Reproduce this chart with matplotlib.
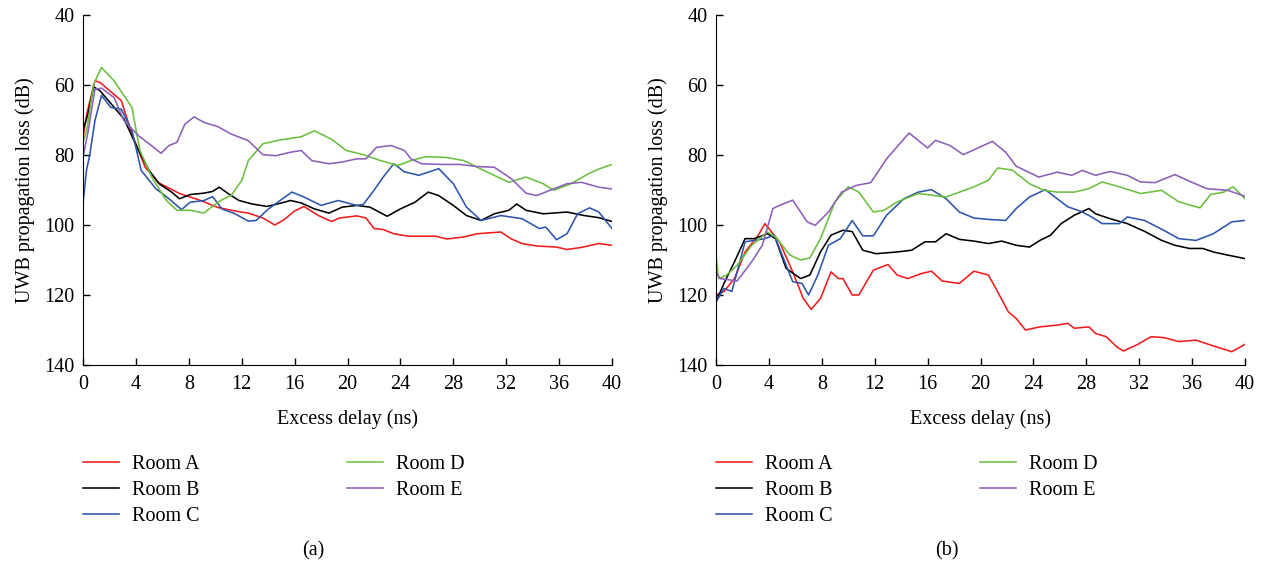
import matplotlib.pyplot as plt
import numpy as np

plt.rcParams['font.family'] = ['Liberation Serif', 'DejaVu Serif']

rooms = ['Room A', 'Room B', 'Room C', 'Room D', 'Room E']
colors = ['#f01c1c', '#000000', '#2b55ad', '#6cbf3e', '#8c5fb8']
xticks = [0, 4, 8, 12, 16, 20, 24, 28, 32, 36, 40]
yticks = [40, 60, 80, 100, 120, 140]

# panel (a): excess delay (ns), loss (dB)
a_room_a = [(0, 75), (0.3, 68), (0.9, 58.8), (1.3, 59.3), (2.9, 64.5), (3.7, 74), (4.7, 83.5),
            (5.75, 88), (7.3, 91), (8.9, 93), (10.2, 95), (11.5, 96), (12.5, 96.6),
            (13.6, 98), (14.5, 100), (15.2, 98.5), (16, 96), (16.7, 94.7), (17.8, 97.3),
            (18.8, 99), (19.4, 98), (20.7, 97.4), (21.4, 98), (22, 101), (22.7, 101.3),
            (23.5, 102.5), (24.6, 103.2), (26.7, 103.2), (27.5, 104), (28.8, 103.4),
            (29.8, 102.5), (31.6, 102), (32.4, 104), (33.2, 105.3), (34.3, 106),
            (35.8, 106.3), (36.6, 107), (37.7, 106.4), (39, 105.3), (40, 105.8)]
a_room_b = [(0, 73), (0.4, 68), (0.8, 60.5), (1.3, 61.7), (3.1, 69.7), (4.2, 78.7), (5, 84.4),
            (5.75, 88.2), (6.7, 90.6), (7.3, 92.5), (8.1, 91.3), (9.15, 90.9), (9.8, 90.4),
            (10.3, 89.2), (11, 91.1), (11.8, 93), (12.8, 94), (13.9, 94.7), (14.6, 94.1),
            (15.7, 93), (16.5, 93.7), (17.5, 95.4), (18.6, 96.6), (19.6, 94.9), (20.7, 94.4),
            (21.7, 94.9), (23, 97.5), (24, 95.4), (25.1, 93.5), (26.1, 90.6), (26.9, 91.6),
            (28, 94.4), (29, 97.3), (30.1, 98.7), (31.1, 96.8), (32.2, 95.8), (32.8, 94),
            (33.5, 95.8), (34.8, 96.8), (36.6, 96.3), (37.9, 97.3), (39, 97.9), (40, 99)]
a_room_c = [(0, 94), (0.26, 84.4), (0.5, 80.2), (0.9, 70.2), (1.4, 63), (2.1, 66.4), (2.9, 66.9),
            (3.7, 73), (4.4, 84.4), (5.5, 89.6), (6.5, 92.5), (7.45, 95.6), (8.1, 93.5),
            (9.15, 93), (9.8, 91.9), (10.5, 95.4), (11.5, 96.8), (12.5, 98.9), (13.1, 98.7),
            (13.9, 95.8), (14.9, 93), (15.8, 90.6), (16.7, 92), (18, 94.4), (19.3, 93),
            (20.7, 94.4), (21.2, 94.1), (22, 90.1), (22.7, 86.3), (23.5, 82.5), (24.3, 84.8),
            (25.4, 85.8), (26.9, 83.9), (28, 88.2), (29, 94.9), (30.1, 98.7), (31.6, 97.3),
            (33.2, 98.2), (34.5, 101), (35, 100.6), (35.8, 104.2), (36.6, 102.5),
            (37.4, 96.8), (38.3, 95.1), (39, 96.3), (40, 101)]
a_room_d = [(0, 76.4), (0.3, 72.6), (0.8, 59.8), (1.4, 55), (2.35, 58.8), (3.7, 66.4),
            (4.3, 78.7), (5.2, 86.3), (6.3, 93), (7.1, 95.8), (8.1, 95.8), (9.15, 96.6),
            (9.7, 94.9), (10.5, 92.8), (11.2, 91.6), (12, 87.3), (12.5, 81.6), (13.6, 76.8),
            (14.9, 75.7), (16.5, 74.8), (17.5, 73.1), (18.8, 75.5), (19.9, 78.7),
            (21.2, 79.9), (22.5, 81.6), (23.8, 83), (24.8, 81.6), (25.9, 80.5), (27.5, 80.7),
            (28.8, 81.6), (30.3, 84.4), (32.2, 87.8), (33.5, 86.3), (34.8, 88.2),
            (35.6, 90.1), (36.9, 88.2), (38.2, 85.4), (39, 84), (40, 82.7)]
a_room_e = [(0, 80.6), (0.4, 73), (0.9, 61.2), (1.4, 60.9), (2.35, 63.6), (3.1, 70.2),
            (4.2, 74.5), (5, 76.8), (5.9, 79.5), (6.5, 77.3), (7.1, 76.4), (7.7, 71.2),
            (8.4, 69.1), (9.15, 70.7), (10.2, 71.9), (11.2, 74), (12.5, 75.9), (13.6, 79.9),
            (14.6, 80.2), (15.7, 79.2), (16.5, 78.7), (17.3, 81.6), (18.6, 82.5),
            (19.6, 82), (20.7, 81.1), (21.4, 81.1), (22.2, 77.8), (23.3, 77.3), (24.3, 78.7),
            (24.8, 81.1), (25.6, 82.5), (27.2, 82.7), (28.5, 82.7), (29.8, 83.3),
            (31.1, 83.5), (32.4, 86.8), (33.5, 90.9), (34.3, 91.6), (35.3, 90.1),
            (36.6, 88.2), (37.7, 87.8), (39, 89.2), (40, 89.7)]

# panel (b)
b_room_a = [(0, 120), (0.6, 119), (1.4, 115.3), (2.2, 107.7), (3.2, 102.9), (3.7, 99.6),
            (4.8, 104.8), (5.8, 113.4), (6.6, 121), (7.2, 124.1), (7.9, 121), (8.7, 113.4),
            (9.25, 115.3), (9.6, 115.3), (10.3, 120), (10.8, 120), (11.9, 112.9), (13, 111.3),
            (13.7, 114.3), (14.5, 115.3), (15.6, 113.8), (16.3, 113.2), (17.1, 116),
            (18.4, 116.7), (19.5, 113.2), (20.6, 114.3), (21.3, 119.1), (22.1, 124.8),
            (22.7, 126.7), (23.4, 130), (24.5, 129.1), (25.8, 128.6), (26.6, 128.1),
            (27.1, 129.5), (28.2, 129.1), (28.7, 131), (29.5, 131.9), (30.3, 134.8),
            (30.8, 136), (31.9, 134.1), (32.9, 131.9), (33.9, 132.2), (35, 133.3),
            (36.3, 132.9), (37.4, 134.3), (39, 136.2), (40, 134.1)]
b_room_b = [(0, 122), (0.6, 116.7), (1.4, 110.5), (2.2, 103.9), (2.9, 103.9), (3.9, 102.5),
            (4.5, 103.9), (5.3, 112.4), (6.4, 115.3), (7.1, 114.3), (7.9, 107.7),
            (8.7, 102.9), (9.6, 101.5), (10.3, 101.9), (11.1, 107.2), (12.1, 108.2),
            (13.7, 107.7), (14.8, 107.2), (15.8, 104.8), (16.6, 104.8), (17.4, 102.5),
            (18.4, 104.1), (19.5, 104.6), (20.6, 105.3), (21.6, 104.6), (22.7, 105.8),
            (23.7, 106.3), (24.5, 104.4), (25.3, 102.9), (26.1, 99.6), (27.1, 97.2),
            (28.2, 95.3), (28.7, 96.8), (29.8, 98.2), (31.1, 99.6), (32.4, 101.8),
            (33.7, 104.4), (34.7, 105.8), (35.8, 106.7), (36.8, 106.7), (37.6, 107.7),
            (38.7, 108.6), (40, 109.6)]
b_room_c = [(0, 122), (0.6, 118.1), (1.2, 119), (2.2, 104.8), (2.9, 104.4), (3.7, 103.9),
            (4.4, 102.9), (5, 108.6), (5.8, 116.2), (6.5, 116.7), (7, 120), (7.7, 114.3),
            (8.5, 105.8), (9.4, 103.9), (10.3, 98.7), (11.1, 103.1), (11.9, 103.1),
            (12.9, 97.2), (14.2, 92.5), (15.3, 90.6), (16.3, 89.9), (17.4, 92.5),
            (18.4, 96.3), (19.5, 98), (20.6, 98.4), (21.9, 98.7), (22.7, 95.3), (23.7, 92),
            (24.9, 89.9), (25.8, 92.5), (26.6, 94.8), (27.6, 96.1), (28.4, 97.7),
            (29.2, 99.6), (30.5, 99.6), (31.1, 97.7), (32.4, 98.7), (33.7, 101.2),
            (35, 103.9), (36.3, 104.4), (37.6, 102.5), (39, 99.1), (40, 98.7)]
b_room_d = [(0, 108.6), (0.2, 115.3), (0.8, 114.3), (1.6, 111.5), (2.7, 105.8), (3.9, 102),
            (4.5, 103.4), (5.6, 108.6), (6.4, 110), (7.1, 109.4), (7.9, 103.9), (9, 93.4),
            (10, 89.1), (10.8, 90.6), (11.9, 96.3), (12.7, 95.8), (13.7, 93.4), (15.3, 91),
            (17.4, 92), (19.5, 89.1), (20.6, 87.2), (21.3, 83.7), (22.4, 84.3), (23.7, 88.2),
            (24.8, 90.1), (25.8, 90.6), (27.1, 90.6), (28.2, 89.6), (29.2, 87.7),
            (30.5, 89.1), (32.1, 91), (33.7, 90.1), (35, 93.4), (36.6, 95.1), (37.4, 91.3),
            (38.4, 90.6), (39.1, 89.1), (40, 92.5)]
b_room_e = [(0, 113.4), (0.3, 115.3), (1.6, 116), (2.7, 110.5), (3.5, 105.8), (4.3, 95.3),
            (4.8, 94.4), (5.8, 92.9), (6.9, 99.1), (7.5, 100.1), (8.5, 96.3), (9.5, 90.6),
            (10.6, 88.7), (11.7, 87.9), (12.9, 81.1), (14.6, 73.7), (16, 78), (16.6, 75.8),
            (17.7, 77.3), (18.7, 79.9), (19.8, 78), (20.9, 76.1), (21.9, 79.2), (22.7, 83.2),
            (24.4, 86.3), (25.8, 84.9), (26.9, 85.8), (27.7, 84.4), (28.7, 85.8),
            (29.8, 84.7), (31.1, 85.8), (32.1, 87.7), (33.2, 87.9), (34.7, 85.6),
            (35.8, 87.5), (37.1, 89.6), (38.7, 90.1), (40, 91.8)]

panels = [
    ([a_room_a, a_room_b, a_room_c, a_room_d, a_room_e], '(a)'),
    ([b_room_a, b_room_b, b_room_c, b_room_d, b_room_e], '(b)'),
]

fs = 14.5
fig = plt.figure(figsize=(12.68, 5.69), dpi=100)
lefts = [83 / 1268, 716 / 1268]

for (series, tag), left in zip(panels, lefts):
    ax = fig.add_axes([left, 1 - 365 / 569, 529 / 1268, 350 / 569])
    for pts, name, c in zip(series, rooms, colors):
        arr = np.array(pts)
        ax.plot(arr[:, 0], arr[:, 1], color=c, lw=1.15, label=name)
    ax.set_xlim(0, 40)
    ax.set_ylim(140, 40)
    ax.set_xticks(xticks)
    ax.set_yticks(yticks)
    ax.spines['top'].set_visible(False)
    ax.spines['right'].set_visible(False)
    ax.tick_params(direction='in', length=5, width=1, labelsize=fs, pad=6)
    ax.tick_params(axis='x', pad=7)
    ax.set_xlabel('Excess delay (ns)', fontsize=fs, labelpad=11)
    ax.set_ylabel('UWB propagation loss (dB)', fontsize=fs, labelpad=7)
    ax.legend(ncol=2, loc='upper left', bbox_to_anchor=(0.0, -0.256), frameon=False,
              fontsize=fs, handlelength=1.8, handletextpad=0.65, columnspacing=7.3,
              labelspacing=0.35, borderpad=0, borderaxespad=0)
    fig.text(left + 0.5 * 529 / 1268 - 34 / 1268, 1 - 551 / 569, tag,
             ha='center', va='center', fontsize=fs)

fig.savefig('out.png', dpi=100)
